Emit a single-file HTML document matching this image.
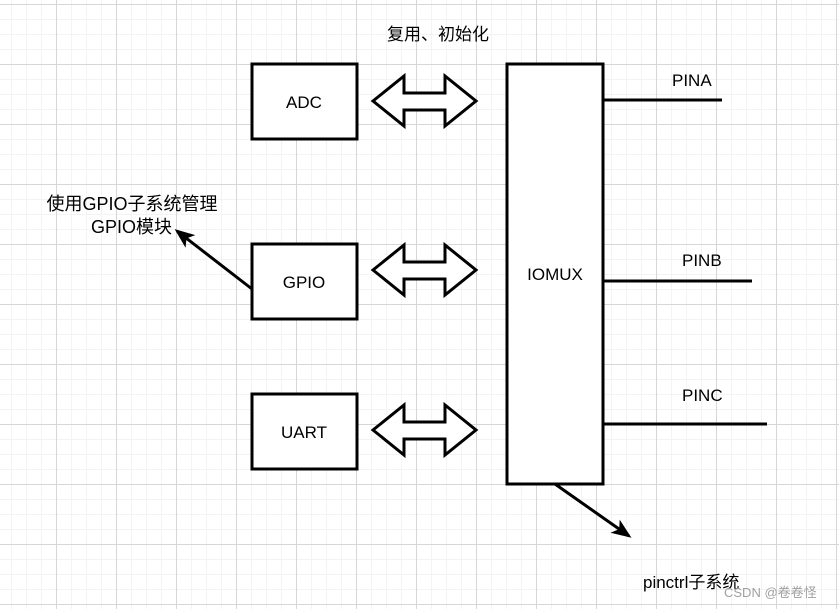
<!DOCTYPE html>
<html><head><meta charset="utf-8"><style>
html,body{margin:0;padding:0;background:#fff}
body{width:839px;height:609px;overflow:hidden;
background-image:
linear-gradient(#d6d6d6 1px,transparent 1px),
linear-gradient(90deg,#d6d6d6 1px,transparent 1px),
linear-gradient(#f3f3f3 1px,transparent 1px),
linear-gradient(90deg,#f3f3f3 1px,transparent 1px);
background-size:60px 60px,60px 60px,15px 15px,15px 15px;
background-position:0 4px,56px 0,0 4px,56px 0;}
svg{position:absolute;left:0;top:0}
text{font-family:"Liberation Sans","Noto Sans CJK SC",sans-serif;font-size:17px;fill:#000}
</style></head><body>
<svg width="839" height="609" viewBox="0 0 839 609">
<defs>
<marker id="ah" markerWidth="20" markerHeight="20" refX="17" refY="8" orient="auto" markerUnits="userSpaceOnUse" viewBox="0 0 20 16">
<path d="M0,0 L20,8 L0,16 L5,8 Z" fill="#000"/>
</marker>
</defs>
<g fill="#fff" stroke="#000" stroke-width="3">
<rect x="252" y="64" width="105" height="75"/>
<rect x="252" y="244" width="105" height="75"/>
<rect x="252" y="394" width="105" height="75"/>
<rect x="507" y="64" width="96" height="420"/>
</g>
<g fill="#fff" stroke="#000" stroke-width="3" stroke-linejoin="miter">
<path d="M373,101 L404,76 L404,93 L445,93 L445,76 L476,101 L445,126 L445,110 L404,110 L404,126 Z"/>
<path d="M373,270 L404,245 L404,262 L445,262 L445,245 L476,270 L445,295 L445,279 L404,279 L404,295 Z"/>
<path d="M373,430 L404,405 L404,422 L445,422 L445,405 L476,430 L445,455 L445,439 L404,439 L404,455 Z"/>
</g>
<g stroke="#000" stroke-width="3">
<line x1="603" y1="100" x2="722" y2="100"/>
<line x1="603" y1="281" x2="752" y2="281"/>
<line x1="603" y1="424" x2="767" y2="424"/>
<line x1="252" y1="289" x2="177" y2="231" marker-end="url(#ah)"/>
<line x1="555" y1="484" x2="629" y2="536" marker-end="url(#ah)"/>
</g>
<text x="304" y="108" text-anchor="middle">ADC</text>
<text x="304" y="288" text-anchor="middle">GPIO</text>
<text x="304" y="438" text-anchor="middle">UART</text>
<text x="555" y="280" text-anchor="middle">IOMUX</text>
<text x="438" y="40" text-anchor="middle">复用、初始化</text>
<text x="672" y="86">PINA</text>
<text x="682" y="266">PINB</text>
<text x="682" y="401">PINC</text>
<text x="132" y="210" text-anchor="middle" style="font-size:18px">使用GPIO子系统管理</text>
<text x="172" y="233" text-anchor="end" style="font-size:18px">GPIO模块</text>
<text x="643" y="588">pinctrl子系统</text>
<text x="724" y="597" style="font-size:13px;fill:#a0a0a0">CSDN @卷卷怪</text>
</svg>
</body></html>
